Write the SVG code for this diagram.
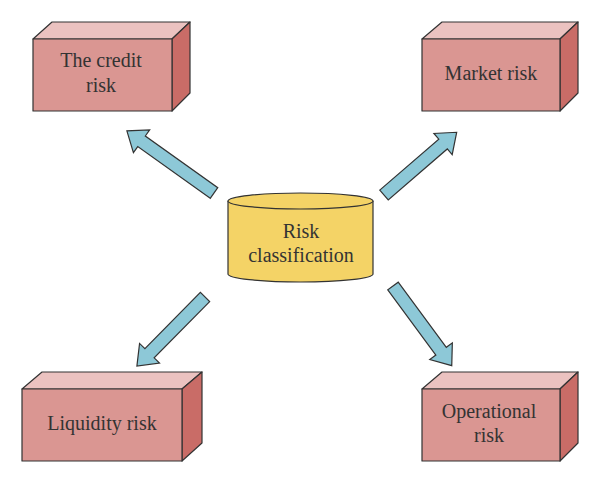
<svg xmlns="http://www.w3.org/2000/svg" width="600" height="483" viewBox="0 0 600 483">
<style>
.front{fill:#DA9692;stroke:#333;stroke-width:1.2;stroke-linejoin:round}
.top{fill:#EBC2C0;stroke:#333;stroke-width:1.2;stroke-linejoin:round}
.side{fill:#C96C67;stroke:#333;stroke-width:1.2;stroke-linejoin:round}
.cyl{fill:#F4D366;stroke:#333;stroke-width:1.2}
.arrow{fill:#8DC8D7;stroke:#333;stroke-width:1.2;stroke-linejoin:miter}
text{font-family:"Liberation Serif","DejaVu Serif",serif;font-size:20px;fill:#333;text-anchor:middle}
</style>
<rect width="600" height="483" fill="#fff"/>
<g id="connectors">
<polygon class="arrow" transform="translate(214,193) rotate(215.5)" points="0,-6.5 89,-6.5 89,-14 107,0 89,14 89,6.5 0,6.5"/>
<polygon class="arrow" transform="translate(384,195) rotate(-40.8)" points="0,-6.5 78,-6.5 78,-14 96,0 78,14 78,6.5 0,6.5"/>
<polygon class="arrow" transform="translate(205,297) rotate(134.6)" points="0,-6.5 79,-6.5 79,-14 97,0 79,14 79,6.5 0,6.5"/>
<polygon class="arrow" transform="translate(393,286) rotate(53.6)" points="0,-6.5 81,-6.5 81,-14 99,0 81,14 81,6.5 0,6.5"/>
</g>
<g id="center">
<path class="cyl" d="M228,201 L228,274 A72.5,8 0 0 0 373,274 L373,201"/>
<ellipse class="cyl" cx="300.5" cy="201" rx="72.5" ry="8"/>
<text x="301" y="238">Risk</text>
<text x="301" y="262">classification</text>
</g>
<g id="credit">
<polygon class="top" points="33,39 52,22 190,22 172,39"/>
<polygon class="side" points="172,39 190,22 190,93 172,111"/>
<rect class="front" x="33" y="39" width="139" height="72"/>
<text x="101" y="67">The credit</text>
<text x="101" y="92">risk</text>
</g>
<g id="market">
<polygon class="top" points="422,39 442,22 578,22 560,39"/>
<polygon class="side" points="560,39 578,22 578,93 560,111"/>
<rect class="front" x="422" y="39" width="138" height="72"/>
<text x="491" y="80">Market risk</text>
</g>
<g id="liquidity">
<polygon class="top" points="22,389 42,372 202,372 182,389"/>
<polygon class="side" points="182,389 202,372 202,443 182,461"/>
<rect class="front" x="22" y="389" width="160" height="72"/>
<text x="102" y="430">Liquidity risk</text>
</g>
<g id="operational">
<polygon class="top" points="422,389 442,372 578,372 560,389"/>
<polygon class="side" points="560,389 578,372 578,443 560,461"/>
<rect class="front" x="422" y="389" width="138" height="72"/>
<text x="489" y="418">Operational</text>
<text x="489" y="442">risk</text>
</g>
</svg>
